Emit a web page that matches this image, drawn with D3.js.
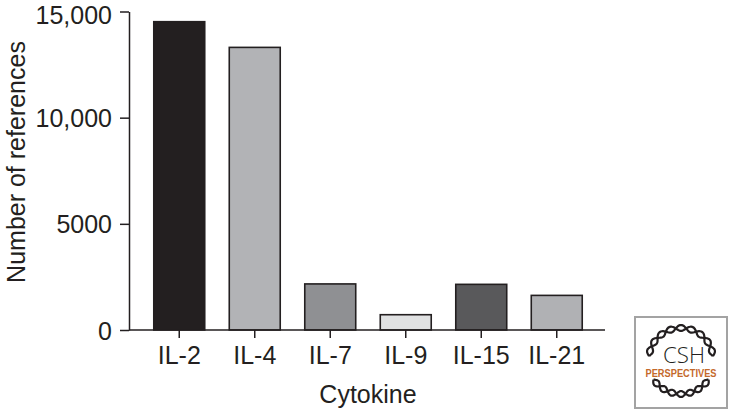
<!DOCTYPE html>
<html>
<head>
<meta charset="utf-8">
<script src="https://cdn.jsdelivr.net/npm/d3@7"></script>
<style>
  body { margin: 0; background: #fff; }
  text { font-family: "Liberation Sans", Arial, sans-serif; fill: #231f20; }
</style>
</head>
<body>
<script>
// Data
const cytokines = ["IL-2", "IL-4", "IL-7", "IL-9", "IL-15", "IL-21"];
const references = [14520, 13310, 2170, 720, 2150, 1630];
const barColors = ["#231f20", "#b2b3b6", "#8f9093", "#e0e1e2", "#59595b", "#b0b1b4"];
const yTicks = [0, 5000, 10000, 15000];
const yTickLabels = ["0", "5000", "10,000", "15,000"];

const width = 731, height = 414;
const ink = "#231f20";
const fontSize = "25px";

const svg = d3.select("body").append("svg")
    .attr("width", width)
    .attr("height", height);

// Scales
const x = d3.scaleBand()
    .domain(cytokines)
    .range([141.5, 594.5])
    .paddingInner(0.325)
    .paddingOuter(0.1625);

const y = d3.scaleLinear()
    .domain([0, 15000])
    .range([330, 11.5]);

// Bars
svg.selectAll(".bar")
    .data(references)
    .enter().append("rect")
    .attr("class", "bar")
    .attr("x", function(d, i){ return x(cytokines[i]); })
    .attr("width", x.bandwidth())
    .attr("y", function(d){ return y(d); })
    .attr("height", function(d){ return y(0) - y(d); })
    .attr("fill", function(d, i){ return barColors[i]; })
    .attr("stroke", ink)
    .attr("stroke-width", 1.6);

// Y axis
const yAxis = svg.append("g")
    .attr("transform", "translate(129,0)")
    .call(d3.axisLeft(y)
        .tickValues(yTicks)
        .tickFormat(function(d, i){ return yTickLabels[i]; })
        .tickSize(9)
        .tickSizeOuter(0)
        .tickPadding(8));

yAxis.selectAll("path, line").attr("stroke", ink).attr("stroke-width", 1.5);
yAxis.selectAll("text")
    .style("font-size", fontSize)
    .style("font-family", "'Liberation Sans', Arial, sans-serif")
    .attr("fill", ink)
    // top label sits a little lower so it stays inside the page
    .attr("dy", function(d){ return d === 15000 ? "0.47em" : "0.36em"; });

// X axis
const xAxis = svg.append("g")
    .attr("transform", "translate(0,330)")
    .call(d3.axisBottom(x)
        .tickSize(8)
        .tickSizeOuter(0)
        .tickPadding(8));

xAxis.select(".domain").remove();
xAxis.append("line")
    .attr("x1", 129).attr("x2", 605)
    .attr("y1", 0).attr("y2", 0)
    .attr("stroke", ink).attr("stroke-width", 1.5);
xAxis.selectAll("line").attr("stroke", ink).attr("stroke-width", 1.5);
xAxis.selectAll(".tick text")
    .style("font-size", fontSize)
    .style("font-family", "'Liberation Sans', Arial, sans-serif")
    .attr("fill", ink);

// Axis titles
svg.append("text")
    .attr("transform", "translate(25,162) rotate(-90)")
    .attr("text-anchor", "middle")
    .style("font-size", fontSize)
    .text("Number of references");

svg.append("text")
    .attr("x", 368)
    .attr("y", 403)
    .attr("text-anchor", "middle")
    .style("font-size", fontSize)
    .text("Cytokine");

// ----- CSH Perspectives badge -----
const logo = svg.append("g");

logo.append("rect")
    .attr("x", 635).attr("y", 317)
    .attr("width", 92).attr("height", 91)
    .attr("fill", "#fff")
    .attr("stroke", "#a3a3a3")
    .attr("stroke-width", 2);

// helix strands along an ellipse
function helix(cx, cy, rx, ry, a0, a1, amp, turns, phase){
    const pts = d3.range(0, 1.0001, 0.01).map(function(t){
        const a = a0 + (a1 - a0) * t;
        const off = amp * Math.sin(turns * 2 * Math.PI * t + phase);
        return [cx + (rx + off) * Math.cos(a), cy + (ry + off) * Math.sin(a)];
    });
    return d3.line().curve(d3.curveBasis)(pts);
}

// [start angle, end angle, turns, rx, ry]
const strands = [
    [-Math.PI * 0.97, -Math.PI * 0.03, 4.5, 32, 31],
    [Math.PI * 0.2, Math.PI * 0.8, 3.5, 34, 35]
];
strands.forEach(function(s){
    [0, Math.PI].forEach(function(ph){
        logo.append("path")
            .attr("d", helix(681, 359, s[3], s[4], s[0], s[1], 3, s[2], ph))
            .attr("fill", "none")
            .attr("stroke", "#231f20")
            .attr("stroke-width", 2.2);
    });
});

logo.append("text")
    .attr("x", 684).attr("y", 363)
    .attr("text-anchor", "middle")
    .style("font-size", "22px")
    .style("font-weight", "300")
    .style("font-family", "'Open Sans', 'Liberation Sans', sans-serif")
    .attr("textLength", 42)
    .attr("lengthAdjust", "spacingAndGlyphs")
    .text("CSH");

logo.append("text")
    .attr("x", 681).attr("y", 377)
    .attr("text-anchor", "middle")
    .style("font-size", "10.5px")
    .style("font-weight", "bold")
    .style("fill", "#c4692b")
    .attr("textLength", 71)
    .attr("lengthAdjust", "spacingAndGlyphs")
    .text("PERSPECTIVES");
</script>
</body>
</html>
